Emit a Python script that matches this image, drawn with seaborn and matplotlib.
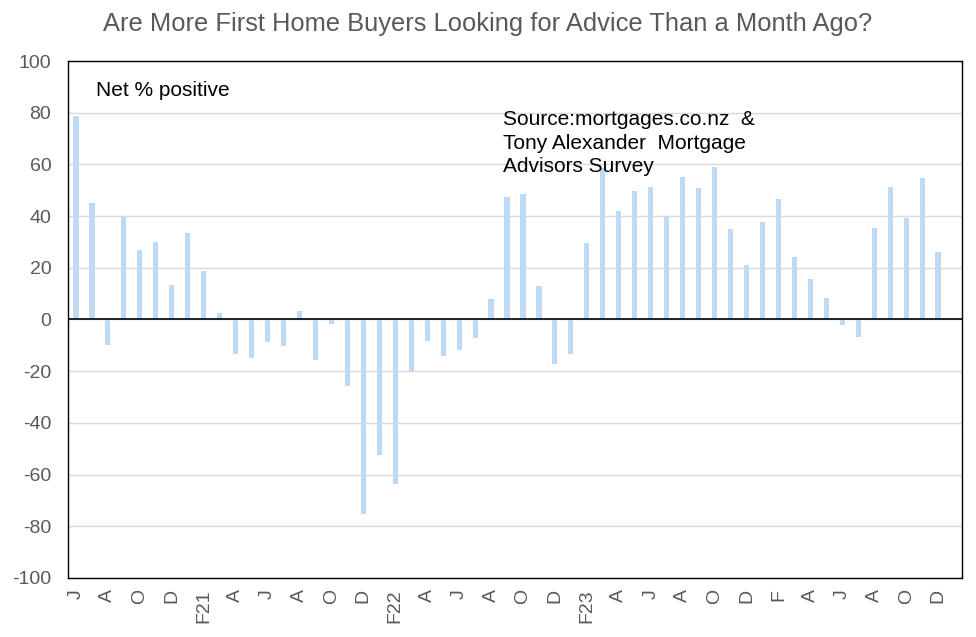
import numpy as np
import pandas as pd
import matplotlib
matplotlib.use("Agg")
import matplotlib.pyplot as plt
import seaborn as sns

# Aylık net % pozitif (Haz 2020 - Ara 2024)
months = pd.date_range("2020-06-01", "2024-12-01", freq="MS")
values = [78.7, 45.0, -10.0, 40.2, 27.0, 29.8, 13.2, 33.3, 18.6, 2.7,
          -13.3, -14.9, -8.7, -10.2, 3.2, -15.8, -1.8, -25.8, -75.4, -52.6,
          -63.8, -20.0, -8.4, -14.2, -11.9, -7.2, 8.1, 47.3, 48.4, 12.8,
          -17.3, -13.4, 29.5, 58.5, 41.9, 49.6, 51.2, 40.0, 55.0, 50.8,
          58.9, 34.9, 20.9, 37.6, 46.5, 24.0, 15.5, 8.5, -2.2, -6.8,
          35.3, 51.2, 39.1, 54.7, 26.0]
tick_labels = ["J", "A", "O", "D", "F21", "A", "J", "A", "O", "D", "F22",
               "A", "J", "A", "O", "D", "F23", "A", "J", "A", "O", "D",
               "F", "A", "J", "A", "O", "D"]
y_ticks = list(range(-100, 101, 20))

df = pd.DataFrame({"ay": months.strftime("%Y-%m"), "deger": values})

sns.set_style("white")
plt.rcParams['font.family'] = ['Liberation Sans', 'DejaVu Sans']
plt.rcParams['axes.unicode_minus'] = False

fig = plt.figure(figsize=(9.76, 6.37), dpi=100)
ax = fig.add_axes([68 / 976, 1 - 578 / 637, 894 / 976, 517 / 637])

sns.barplot(data=df, x="ay", y="deger", color="#BFDAF5", saturation=1,
            width=0.32, linewidth=0, ax=ax, zorder=2)

ax.set_xlim(-0.5, len(values) + 0.5)
ax.set_ylim(-100, 100)
ax.set_yticks(y_ticks)
ax.set_xticks(range(0, len(values), 2))
ax.set_xticklabels(tick_labels, rotation=90)
ax.tick_params(axis="both", colors="#595959", labelsize=14, length=0)
ax.tick_params(axis="y", pad=12)
ax.tick_params(axis="x", pad=8)
ax.set_xlabel("")
ax.set_ylabel("")

for y in y_ticks:
    ax.axhline(y, color="#D9D9D9", lw=1, zorder=0)
ax.axhline(0, color="black", lw=1.2, zorder=3)

for s in ax.spines.values():
    s.set_color("black")
    s.set_linewidth(1)

ax.text(0.0313, 0.942, "Net % positive", transform=ax.transAxes,
        fontsize=15, color="black", va="center", ha="left")
ax.text(0.4866, 0.905, "Source:mortgages.co.nz  &\nTony Alexander  Mortgage\nAdvisors Survey",
        transform=ax.transAxes, fontsize=15, color="black", va="top",
        ha="left", linespacing=1.3, zorder=4)

fig.text(0.4995, 1 - 24 / 637,
         "Are More First Home Buyers Looking for Advice Than a Month Ago?",
         fontsize=18.4, color="#595959", ha="center", va="center")

fig.savefig("out.png", dpi=100)
plt.close()
